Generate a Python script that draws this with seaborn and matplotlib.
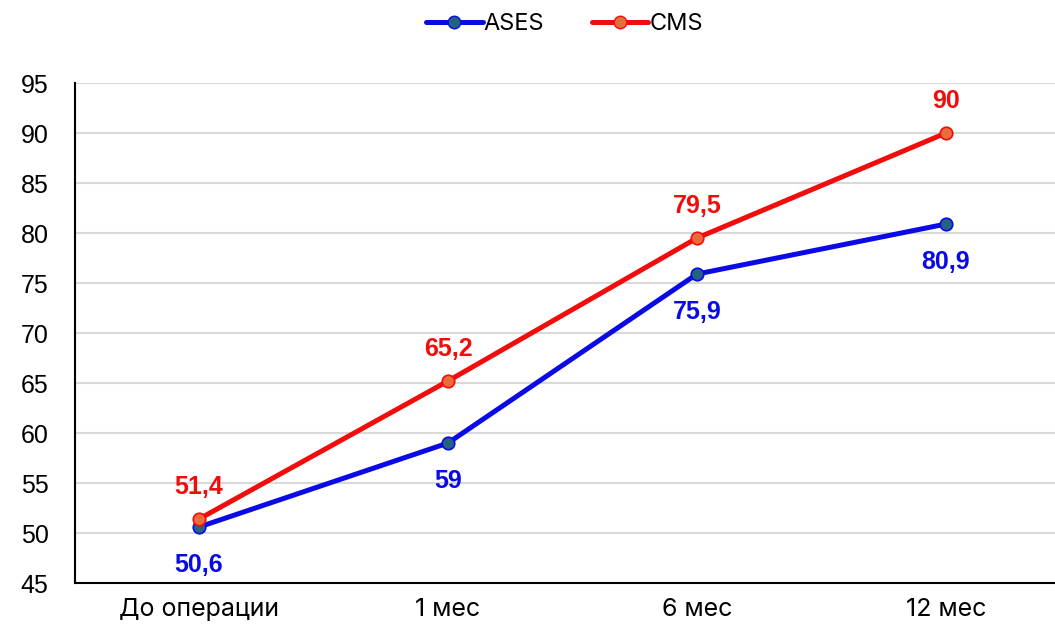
import matplotlib
matplotlib.use("Agg")
import matplotlib.pyplot as plt
import seaborn as sns
import pandas as pd
from matplotlib.lines import Line2D

# Time points and scores
categories = ["До операции", "1 мес", "6 мес", "12 мес"]
ases = [50.6, 59, 75.9, 80.9]
cms = [51.4, 65.2, 79.5, 90]
ases_labels = ["50,6", "59", "75,9", "80,9"]
cms_labels = ["51,4", "65,2", "79,5", "90"]

sns.set_theme(style="white")
plt.rcParams["font.family"] = ["Liberation Sans", "DejaVu Sans"]
plt.rcParams["text.color"] = "black"
plt.rcParams["xtick.color"] = "black"
plt.rcParams["ytick.color"] = "black"

fig = plt.figure(figsize=(10.55, 6.34), dpi=100)
ax = fig.add_axes([0.0711, 0.0804, 0.9289, 0.7886])

pos = list(range(len(categories)))
df_a = pd.DataFrame({"x": pos, "y": ases})
df_c = pd.DataFrame({"x": pos, "y": cms})

blue = "#0a0ae6"
red = "#f20d0d"
sns.lineplot(data=df_a, x="x", y="y", ax=ax, color=blue, linewidth=3.6,
             marker="o", markersize=9, markerfacecolor="#23637f",
             markeredgecolor=blue, markeredgewidth=1.2, zorder=3)
sns.lineplot(data=df_c, x="x", y="y", ax=ax, color=red, linewidth=3.6,
             marker="o", markersize=9, markerfacecolor="#ec6b3b",
             markeredgecolor=red, markeredgewidth=1.2, zorder=4)

for x, y, t in zip(pos, ases, ases_labels):
    ax.annotate(t, (x, y), xytext=(0, -27), textcoords="offset points",
                ha="center", va="center", color=blue, fontsize=18, fontweight="bold")
for x, y, t in zip(pos, cms, cms_labels):
    ax.annotate(t, (x, y), xytext=(0, 23), textcoords="offset points",
                ha="center", va="center", color=red, fontsize=18, fontweight="bold")

ax.set_ylim(45, 95)
ax.set_yticks(range(45, 96, 5))
ax.set_xlim(-0.498, 3.438)
ax.set_xticks(pos)
ax.set_xticklabels(categories, fontsize=18, family=["Inter", "DejaVu Sans"])
ax.tick_params(axis="y", labelsize=18, length=0, pad=19, labelcolor="black")
ax.tick_params(axis="x", length=0, pad=11, labelcolor="black")
ax.set_xlabel("")
ax.set_ylabel("")
ax.yaxis.grid(True, color="#d9d9d9", linewidth=1.5)
ax.set_axisbelow(True)
for s in ["top", "right"]:
    ax.spines[s].set_visible(False)
for s in ["left", "bottom"]:
    ax.spines[s].set_color("black")
    ax.spines[s].set_linewidth(1.5)

handles = [
    Line2D([], [], color=blue, linewidth=3.6, marker="o", markersize=9,
           markerfacecolor="#23637f", markeredgecolor=blue),
    Line2D([], [], color=red, linewidth=3.6, marker="o", markersize=9,
           markerfacecolor="#ec6b3b", markeredgecolor=red),
]
fig.legend(handles, ["ASES", "CMS"], loc="center", bbox_to_anchor=(0.535, 0.962),
           ncol=2, frameon=False, handlelength=2.4,
           handletextpad=0.05, columnspacing=2.0, labelcolor="black",
           prop={"family": ["Inter", "DejaVu Sans"], "size": 17})

fig.savefig("out.png", dpi=100)
